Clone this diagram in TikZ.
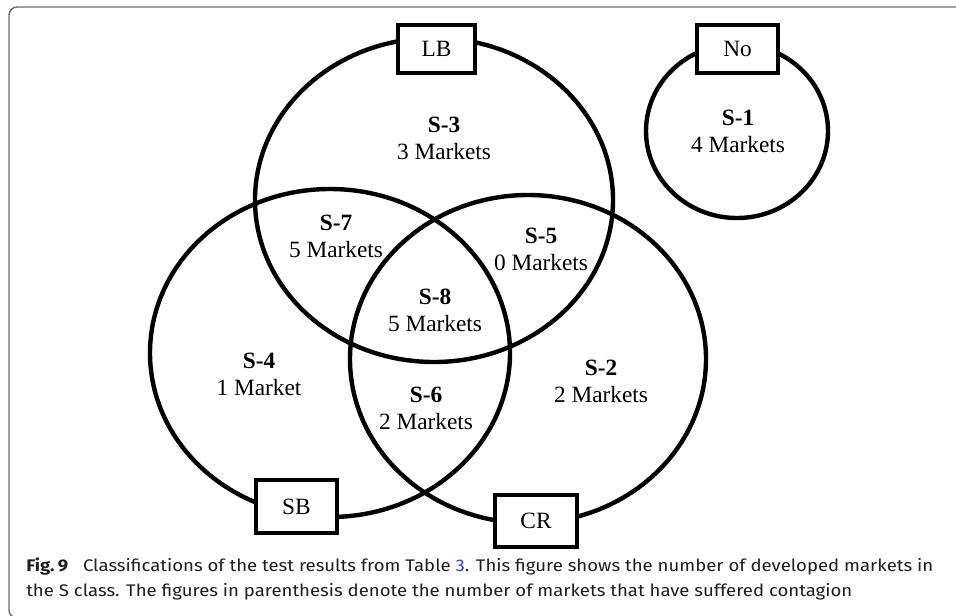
\documentclass[tikz,border=0pt]{standalone}
\usepackage{fontspec}
\setmainfont{Liberation Serif}
\newfontfamily\capfont{Fira Sans}
\usetikzlibrary{shapes.geometric}
\definecolor{framegray}{RGB}{110,110,110}
\definecolor{linkblue}{RGB}{40,60,220}
\definecolor{captext}{RGB}{30,30,30}
\tikzset{
  venn/.style={draw=black, line width=3.3pt, ellipse, inner sep=0pt},
  tagbox/.style={draw=black, fill=white, line width=2.4pt, inner sep=0pt,
    font=\fontsize{17.5pt}{20pt}\selectfont},
  lab/.style={align=center, inner sep=0pt, font=\fontsize{17.5pt}{20.25pt}\selectfont},
  capline/.style={anchor=base west, inner sep=0pt, text=captext,
    font=\capfont\fontsize{12.6pt}{15pt}\selectfont}
}
\begin{document}
\begin{tikzpicture}[x=0.75pt,y=-0.75pt]
\useasboundingbox (0,0) rectangle (956,615);
\clip (0,0) rectangle (956,615);
\fill[white] (0,0) rectangle (956,615);
\draw[framegray, line width=1.1pt, rounded corners=6pt] (9,7) rectangle (1000,618);
% ellipses
\node[venn, minimum width=268.5pt, minimum height=243pt] (eLB) at (434,200) {};
\node[venn, minimum width=270pt, minimum height=246pt] (eSB) at (330,353) {};
\node[venn, minimum width=267pt, minimum height=246pt] (eCR) at (528,359) {};
\node[venn, minimum width=136.5pt, minimum height=130.5pt] (eNo) at (737,131) {};
% tag boxes
\node[tagbox, minimum width=57.75pt, minimum height=36pt] (LB) at (436.5,49) {LB};
\node[tagbox, minimum width=60.75pt, minimum height=36pt] (No) at (737.5,49) {No};
\node[tagbox, minimum width=60.75pt, minimum height=39.75pt] (SB) at (296.5,506.5) {SB};
\node[tagbox, minimum width=61.5pt, minimum height=39pt] (CR) at (536,521) {CR};
% region labels
\node[lab] (s3) at (444,138) {\textbf{S-3}\\3 Markets};
\node[lab] (s1) at (738,131) {\textbf{S-1}\\4 Markets};
\node[lab] (s7) at (336,236) {\textbf{S-7}\\5 Markets};
\node[lab] (s8) at (435,310) {\textbf{S-8}\\5 Markets};
\node[lab] (s4) at (259,374) {\textbf{S-4}\\1 Market};
\node[lab] (s5) at (541,249) {\textbf{S-5}\\0 Markets};
\node[lab] (s2) at (601,381) {\textbf{S-2}\\2 Markets};
\node[lab] (s6) at (426,408) {\textbf{S-6}\\2 Markets};
% caption
\node[capline] (cap1) at (26,571) {\resizebox{680.25pt}{\height}{\textbf{Fig.\,9}\hspace{0.8em}Classifications of the test results from Table {\color{linkblue}3}. This figure shows the number of developed markets in}};
\node[capline] (cap2) at (26,596) {\resizebox{619.5pt}{\height}{the S class. The figures in parenthesis denote the number of markets that have suffered contagion}};
\end{tikzpicture}
\end{document}
